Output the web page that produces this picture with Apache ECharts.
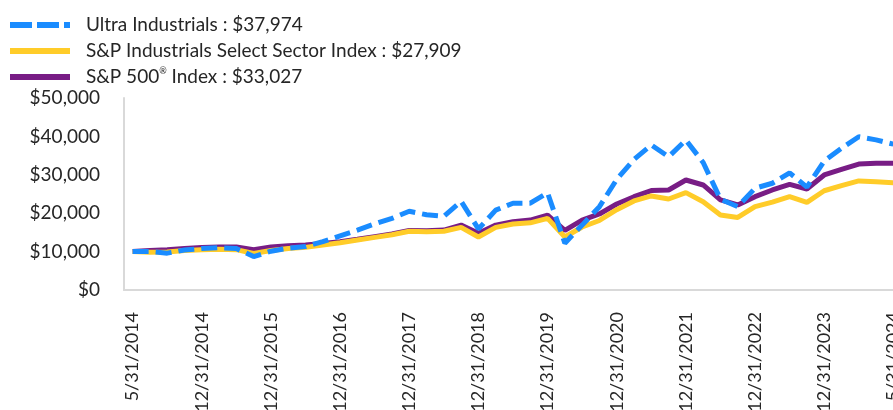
<!DOCTYPE html>
<html>
<head>
<meta charset="utf-8">
<script src="https://cdn.jsdelivr.net/npm/echarts@6/dist/echarts.min.js"></script>
<style>
  html, body { margin: 0; padding: 0; background: #fff; }
  #chart { width: 893px; height: 410px; }
</style>
</head>
<body>
<div id="chart"></div>
<script>
// categories (only every 4th one is labelled on the axis)
var dates = [
  '5/31/2014', '6/30/2014', '8/31/2014', '9/30/2014', '12/31/2014',
  '3/31/2015', '6/30/2015', '9/30/2015', '12/31/2015',
  '3/31/2016', '6/30/2016', '9/30/2016', '12/31/2016',
  '3/31/2017', '6/30/2017', '9/30/2017', '12/31/2017',
  '3/31/2018', '6/30/2018', '9/30/2018', '12/31/2018',
  '3/31/2019', '6/30/2019', '9/30/2019', '12/31/2019',
  '3/31/2020', '6/30/2020', '9/30/2020', '12/31/2020',
  '3/31/2021', '6/30/2021', '9/30/2021', '12/31/2021',
  '3/31/2022', '6/30/2022', '9/30/2022', '12/31/2022',
  '3/31/2023', '6/30/2023', '9/30/2023', '12/31/2023',
  '2/29/2024', '3/31/2024', '4/30/2024', '5/31/2024'
];

var ultra = [
  10000, 10000, 9600, 10400, 10800, 11000, 10800, 8700, 10100,
  10900, 11300, 12600, 14100, 15600, 17200, 18650, 20500,
  19600, 19200, 23100, 15900, 20800, 22600, 22600, 25300,
  12200, 16900, 21700, 28800, 34000, 37750, 34700, 39050,
  33200, 23650, 21700, 26500, 27800, 30500, 26800, 33600,
  36900, 39900, 39100, 37974
];

var industrials = [
  10000, 9800, 9900, 10300, 10500, 10600, 10500, 9500, 10300,
  10800, 11100, 11700, 12300, 13000, 13700, 14400, 15300,
  15200, 15300, 16300, 13800, 16300, 17200, 17500, 18650,
  13800, 16400, 18100, 20900, 23200, 24500, 23700, 25350,
  23000, 19550, 18900, 21700, 22900, 24300, 22830, 25850,
  27170, 28400, 28200, 27909
];

var sp500 = [
  10000, 10300, 10500, 10800, 11100, 11200, 11200, 10500, 11200,
  11500, 11700, 12100, 12600, 13200, 13900, 14600, 15500,
  15400, 15600, 16900, 14800, 16900, 17800, 18200, 19500,
  15500, 18200, 19800, 22400, 24300, 25900, 26050, 28650,
  27350, 23450, 22150, 24300, 26050, 27500, 26300, 29950,
  31400, 32800, 33000, 33027
];

var seriesNames = ['Ultra Industrials', 'S&P Industrials Select Sector Index', 'S&P 500® Index'];
var lastValues = {};
lastValues[seriesNames[0]] = ultra[ultra.length - 1];
lastValues[seriesNames[1]] = industrials[industrials.length - 1];
lastValues[seriesNames[2]] = sp500[sp500.length - 1];

function money(v) {
  return '$' + String(v).replace(/\B(?=(\d{3})+(?!\d))/g, ',');
}

var FONT = 'Lato';
var TXT = '#262626';

// legend icons: a solid bar, and a dashed one for the fund
var solidIcon = 'path://M0,0h60v6h-60z';
var dashIcon = 'path://M0,0h22v6h-22z M27,0h22v6h-22z M54,0h6v6h-6z';

var myChart = echarts.init(document.getElementById('chart'));

var option = {
  animation: false,
  textStyle: { fontFamily: FONT },
  legend: {
    orient: 'vertical',
    left: 5,
    top: 10,
    itemWidth: 60,
    itemHeight: 6,
    itemGap: 6,
    data: [
      { name: seriesNames[0], icon: dashIcon },
      { name: seriesNames[1], icon: solidIcon },
      { name: seriesNames[2], icon: solidIcon }
    ],
    formatter: function (name) {
      var label = name.replace('®', '{sup|®}');
      return label + ' : ' + money(lastValues[name]);
    },
    textStyle: {
      fontFamily: FONT,
      fontSize: 19,
      lineHeight: 20,
      color: TXT,
      padding: [0, 0, 0, 11],
      rich: {
        sup: { fontSize: 9, verticalAlign: 'top', lineHeight: 14, color: TXT, fontFamily: FONT }
      }
    }
  },
  grid: {
    left: 124,
    top: 98,
    width: 778,
    bottom: 120,
    outerBoundsMode: 'none',
    containLabel: false
  },
  xAxis: {
    type: 'category',
    data: dates,
    boundaryGap: true,
    axisLine: { lineStyle: { color: '#d9d9d9', width: 2 } },
    axisTick: { show: false },
    axisLabel: {
      interval: 3,
      rotate: 90,
      margin: 22,
      fontSize: 18,
      color: TXT,
      fontFamily: FONT
    }
  },
  yAxis: {
    type: 'value',
    min: 0,
    max: 50000,
    interval: 10000,
    axisLine: { show: true, lineStyle: { color: '#d9d9d9', width: 2 } },
    axisTick: { show: false },
    splitLine: { show: false },
    axisLabel: {
      margin: 24,
      fontSize: 19,
      color: TXT,
      fontFamily: FONT,
      formatter: function (v) { return money(v); }
    }
  },
  series: [
    {
      name: seriesNames[2],
      type: 'line',
      data: sp500,
      symbol: 'none',
      color: '#781d85',
      lineStyle: { width: 5, color: '#781d85' }
    },
    {
      name: seriesNames[1],
      type: 'line',
      data: industrials,
      symbol: 'none',
      color: '#ffcc29',
      lineStyle: { width: 5, color: '#ffcc29' }
    },
    {
      name: seriesNames[0],
      type: 'line',
      data: ultra,
      symbol: 'none',
      color: '#1a8cff',
      lineStyle: { width: 5, color: '#1a8cff', type: [16, 7] }
    }
  ]
};

myChart.setOption(option);
</script>
</body>
</html>
